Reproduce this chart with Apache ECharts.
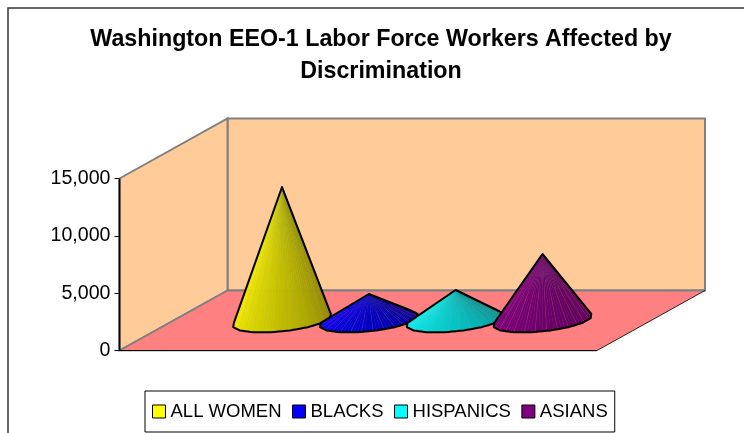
<!DOCTYPE html>
<html>
<head>
<meta charset="utf-8">
<script src="https://cdn.jsdelivr.net/npm/echarts@6/dist/echarts.min.js"></script>
<style>
  html, body { margin: 0; padding: 0; background: #fff; }
  #main { width: 744px; height: 433px; }
</style>
</head>
<body>
<div id="main"></div>
<script>
// values
const seriesNames = ['ALL WOMEN', 'BLACKS', 'HISPANICS', 'ASIANS'];
const seriesColors = ['#ffff00', '#0000ff', '#00ffff', '#800080'];
const seriesValues = [11640, 2310, 2660, 5800];
const yTicks = [0, 5000, 10000, 15000];

// how dark each cone gets on its right side
const coneDarkest = [0.5, 0.5, 0.5, 0.68];

// fake 3D box: how far the back wall sits from the front plane
const DEPTH_X = 108;
const DEPTH_Y = -60;
const FONT = '"Liberation Sans", Arial, sans-serif';

const shade = (c, f, k) => {
  const n = parseInt(c.slice(1), 16);
  const rgb = [(n >> 16) & 255, (n >> 8) & 255, n & 255];
  return 'rgb(' + rgb.map(v => Math.round(v * f * (1 - k) + 110 * k)).join(',') + ')';
};

const renderBox = (params) => {
  const g = params.coordSys;
  const l = g.x, r = g.x + g.width, t = g.y, b = g.y + g.height;
  const poly = (points, fill, stroke) => ({
    type: 'polygon',
    shape: { points },
    style: { fill, stroke, lineWidth: 2 }
  });
  const line = (x1, y1, x2, y2, stroke, lineWidth) => ({
    type: 'line',
    shape: { x1, y1, x2, y2 },
    style: { stroke, lineWidth }
  });
  return {
    type: 'group',
    children: [
      poly([[l + DEPTH_X, t + DEPTH_Y], [r + DEPTH_X, t + DEPTH_Y], [r + DEPTH_X, b + DEPTH_Y], [l + DEPTH_X, b + DEPTH_Y]], '#ffcc99', '#808080'),
      poly([[l, t], [l + DEPTH_X, t + DEPTH_Y], [l + DEPTH_X, b + DEPTH_Y], [l, b]], '#ffcc99', '#808080'),
      poly([[l, b], [r, b], [r + DEPTH_X, b + DEPTH_Y], [l + DEPTH_X, b + DEPTH_Y]], '#ff8080', null),
      line(l + DEPTH_X, b + DEPTH_Y, r + DEPTH_X, b + DEPTH_Y, '#808080', 2),
      line(l, b, l + DEPTH_X, b + DEPTH_Y, '#808080', 2),
      line(r, b + 1, l, b + 1, '#d0d0d0', 1),
      line(l, b, r, b, '#000', 1),
      line(r, b, r + DEPTH_X, b + DEPTH_Y, '#222', 1),
      // the value axis line has to stay above the wall edge
      line(l, t, l, b, '#000', 1.8)
    ]
  };
};

const renderCone = (params, api) => {
  const idx = params.seriesIndex - 1;
  const color = seriesColors[idx];
  const top = api.coord([idx, api.value(0)]);
  const foot = api.coord([idx, 0]);
  const cx = foot[0] + DEPTH_X / 2, cy = foot[1] + DEPTH_Y / 2;
  const apex = [top[0] + DEPTH_X / 2, top[1] + DEPTH_Y / 2];

  // the rim is a coarse polygon, like the original, each side split for the shading
  const sides = 16, sub = 5;
  const corners = [];
  for (let i = 0; i < sides; i++) {
    const a = (i + 0.5) / sides * Math.PI * 2;
    corners.push([
      cx + 45 * Math.cos(a) + 20.5 * Math.sin(a),
      cy - 12 * Math.sin(a)
    ]);
  }
  const rim = [];
  corners.forEach((p, i) => {
    const q = corners[(i + 1) % sides];
    for (let j = 0; j < sub; j++) {
      rim.push([p[0] + (q[0] - p[0]) * j / sub, p[1] + (q[1] - p[1]) * j / sub]);
    }
  });
  const steps = rim.length;

  // keep only the faces turned towards the viewer
  const faces = [];
  for (let i = 0; i < steps; i++) {
    const p = rim[i], q = rim[(i + 1) % steps];
    const cross = (p[0] - apex[0]) * (q[1] - apex[1]) - (p[1] - apex[1]) * (q[0] - apex[0]);
    if (cross < 0) faces.push(i);
  }
  const startAt = faces.findIndex(i => !faces.includes((i - 1 + steps) % steps));
  const ordered = faces.slice(startAt).concat(faces.slice(0, startAt));

  const outline = [apex];
  const children = [];
  const stripes = [];
  ordered.forEach((i, k) => {
    const p = rim[i], q = rim[(i + 1) % steps];
    const lit = 1 - (1 - coneDarkest[idx]) * k / (ordered.length - 1);
    const mx = (p[0] + q[0]) / 2, my = (p[1] + q[1]) / 2;
    const fill = {
      type: 'linear', global: true,
      x: apex[0], y: apex[1], x2: mx, y2: my,
      colorStops: [
        { offset: 0, color: shade(color, lit, 0.2) },
        { offset: 0.5, color: shade(color, lit, 0) },
        { offset: 1, color: shade(color, lit, 0) }
      ]
    };
    children.push({
      type: 'polygon',
      shape: { points: [apex, p, q] },
      style: { fill, stroke: fill, lineWidth: 0.4 }
    });
    // faint seams between the faces, only on the lower part
    if (k % 3 === 0) {
      stripes.push({
        type: 'line',
        shape: {
          x1: apex[0] + (p[0] - apex[0]) * 0.45,
          y1: apex[1] + (p[1] - apex[1]) * 0.45,
          x2: p[0],
          y2: p[1]
        },
        style: { stroke: '#ff8080', lineWidth: 0.5, opacity: 0.3 }
      });
    }
    outline.push(p);
  });
  outline.push(rim[(ordered[ordered.length - 1] + 1) % steps]);
  children.push(...stripes);
  children.push({
    type: 'polygon',
    shape: { points: outline },
    style: { fill: null, stroke: '#000', lineWidth: 2, lineJoin: 'round' }
  });
  return { type: 'group', children };
};

const chart = echarts.init(document.getElementById('main'), null, { renderer: 'canvas' });

const series = [{
  type: 'custom',
  name: 'box',
  silent: true,
  z: 1,
  clip: false,
  renderItem: renderBox,
  data: [[0]]
}];
seriesNames.forEach((name, i) => {
  series.push({
    type: 'custom',
    name,
    z: 6 + i,
    clip: false,
    silent: true,
    itemStyle: { color: seriesColors[i] },
    renderItem: renderCone,
    encode: { x: 1, y: 0 },
    data: [[seriesValues[i], i]]
  });
});

chart.setOption({
  animation: false,
  backgroundColor: '#fff',
  title: {
    text: 'Washington EEO-1 Labor Force Workers Affected by\nDiscrimination',
    left: 376,
    top: 19,
    textAlign: 'center',
    textStyle: { fontFamily: FONT, fontWeight: 'bold', fontSize: 23.25, lineHeight: 32, color: '#000' }
  },
  graphic: [{
    type: 'rect',
    shape: { x: 8, y: 8, width: 800, height: 500 },
    style: { fill: null, stroke: '#333', lineWidth: 1.5 },
    silent: true,
    z: 0
  }],
  grid: { left: 119.5, right: 147, top: 178.5, bottom: 82.5, containLabel: false },
  xAxis: { type: 'value', min: -1.25, max: 4.25, show: false },
  yAxis: {
    type: 'value',
    min: yTicks[0],
    max: yTicks[yTicks.length - 1],
    interval: yTicks[1] - yTicks[0],
    axisLine: { show: true, onZero: false, lineStyle: { color: '#000', width: 1 } },
    axisTick: { show: true, length: 5, lineStyle: { color: '#000', width: 1 } },
    splitLine: { show: false },
    axisLabel: {
      margin: 9,
      fontFamily: FONT,
      fontSize: 19.6,
      color: '#000',
      formatter: v => v.toLocaleString('en-US')
    }
  },
  legend: {
    data: seriesNames,
    left: 145,
    top: 391,
    icon: 'rect',
    itemWidth: 13,
    itemHeight: 13,
    itemGap: 10.5,
    padding: [11, 7, 11, 7],
    borderColor: '#000',
    borderWidth: 1,
    selectedMode: false,
    itemStyle: { borderColor: '#000', borderWidth: 1 },
    textStyle: { fontFamily: FONT, fontSize: 18.5, color: '#000' }
  },
  series
});
</script>
</body>
</html>
